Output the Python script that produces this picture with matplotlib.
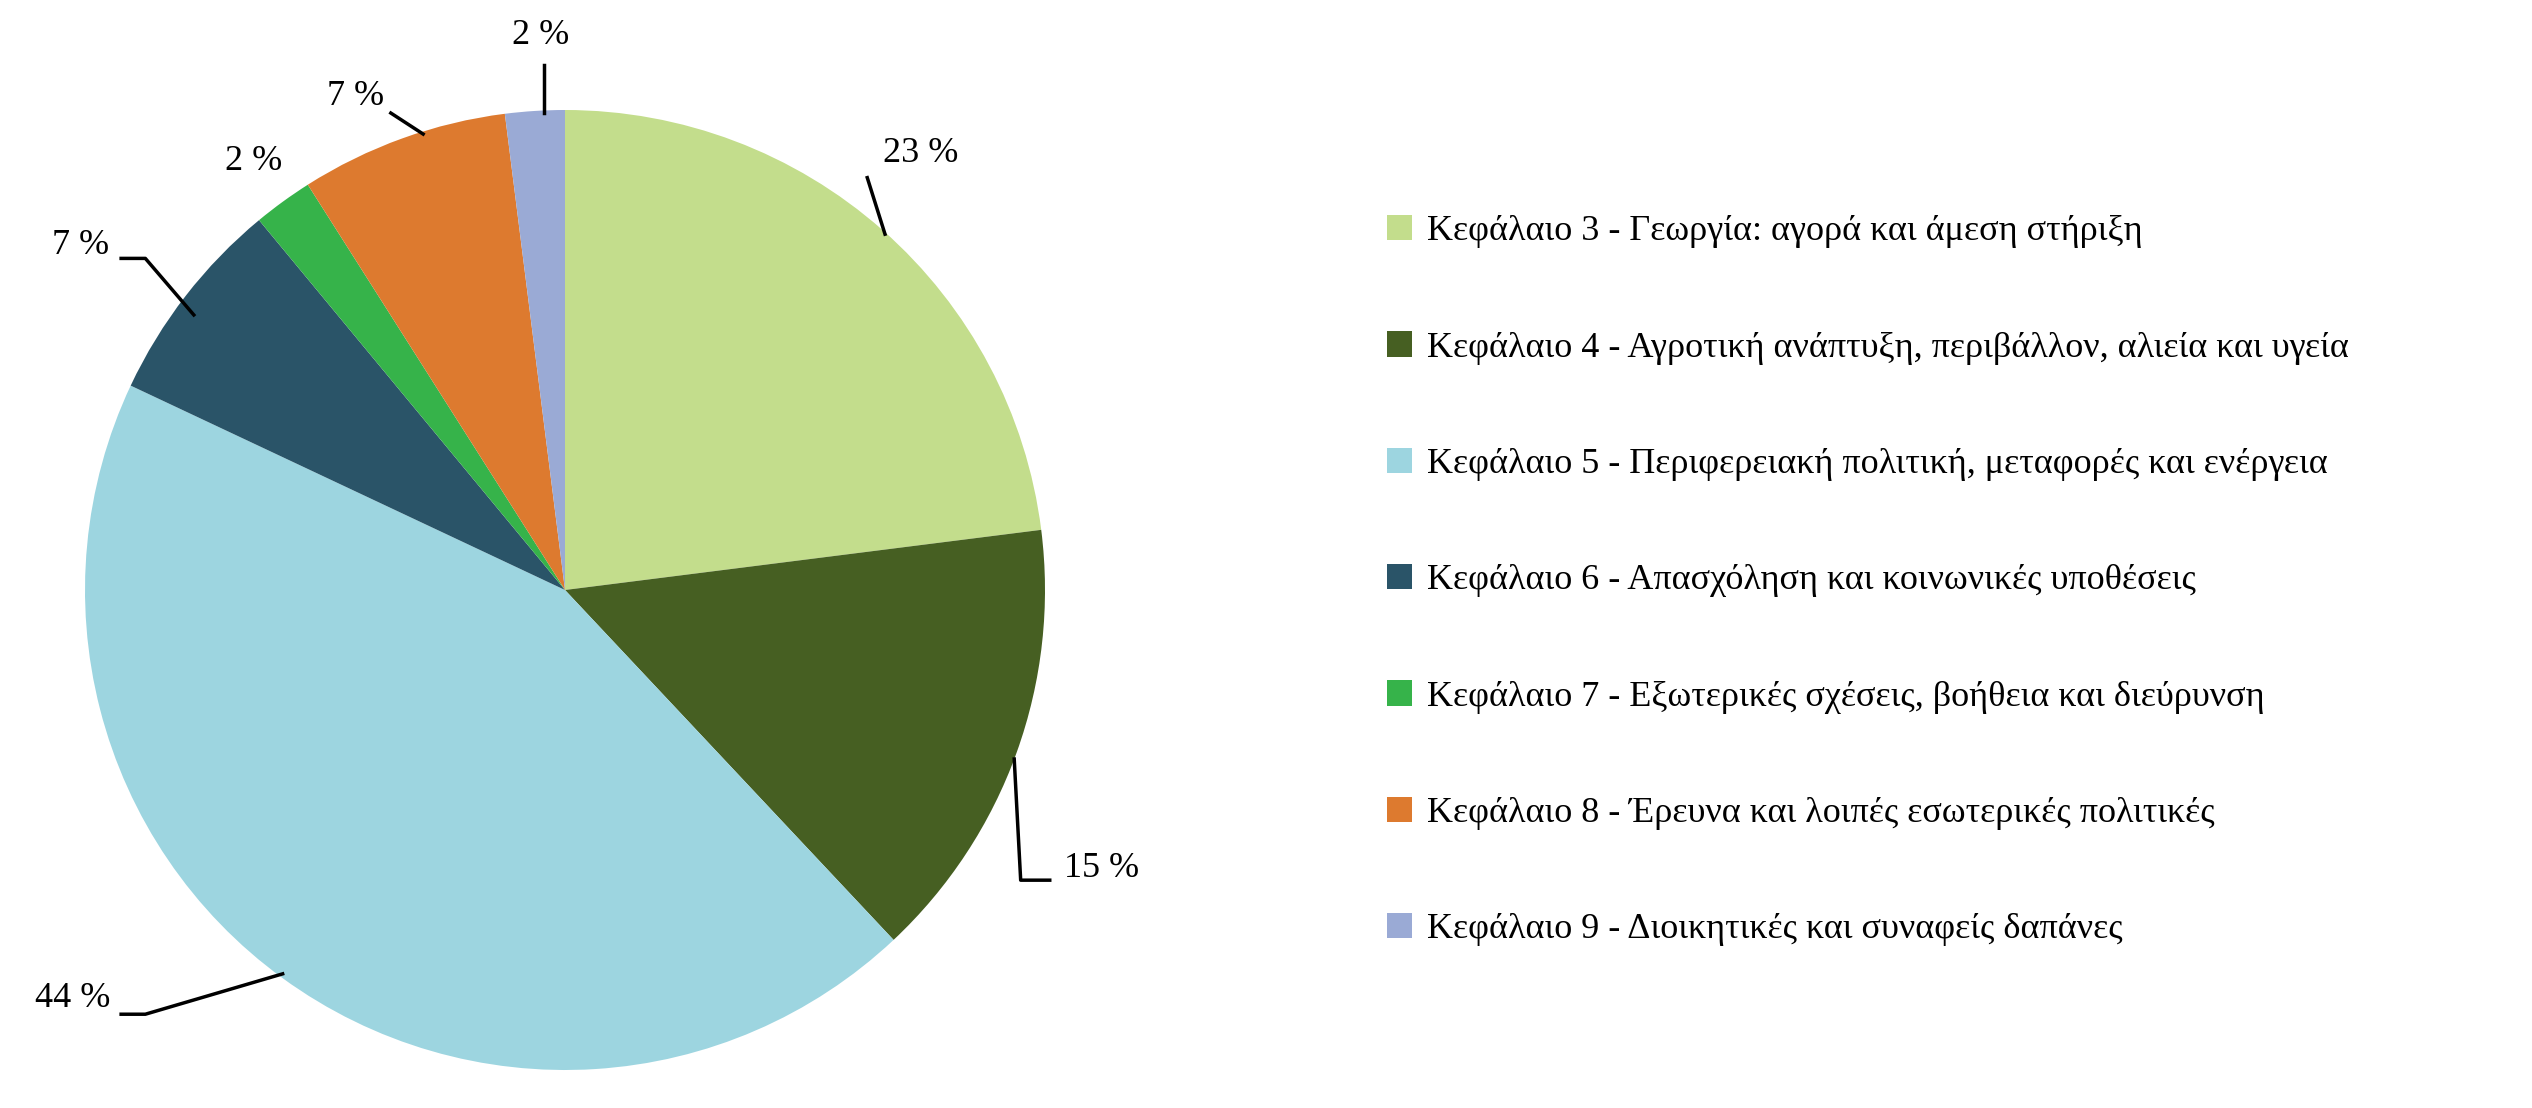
import numpy as np
import matplotlib.pyplot as plt

plt.rcParams['font.family'] = 'Liberation Serif'

labels = ['Κεφάλαιο 3 - Γεωργία: αγορά και άμεση στήριξη',
          'Κεφάλαιο 4 - Αγροτική ανάπτυξη, περιβάλλον, αλιεία και υγεία',
          'Κεφάλαιο 5 - Περιφερειακή πολιτική, μεταφορές και ενέργεια',
          'Κεφάλαιο 6 - Απασχόληση και κοινωνικές υποθέσεις',
          'Κεφάλαιο 7 - Εξωτερικές σχέσεις, βοήθεια και διεύρυνση',
          'Κεφάλαιο 8 - Έρευνα και λοιπές εσωτερικές πολιτικές',
          'Κεφάλαιο 9 - Διοικητικές και συναφείς δαπάνες']
values = [23, 15, 44, 7, 2, 7, 2]
colors = ['#C3DD8C', '#465F22', '#9DD5E0', '#2A5468', '#36B34A', '#DD7A2F', '#9AAAD5']

fig = plt.figure(figsize=(25.32, 11.08), dpi=100)
ax = fig.add_axes([85/2532, 38/1108, 960/2532, 960/1108])
wedges, _ = ax.pie(values, colors=colors, startangle=90, counterclock=False,
                   wedgeprops=dict(linewidth=0))
ax.set_xlim(-1, 1)
ax.set_ylim(-1, 1)
ax.set_aspect('equal')


def px(x, y):
    # displayed-pixel position -> pie data coords
    X = x * 1.615
    Y = 1108 - y * 1.615
    return (X - 565) / 480, (Y - 518) / 480

# leader paths (displayed pixels) and label positions
paths = [
    [(548, 145), (537, 110)],
    [(628, 470), (632, 545), (650, 545)],
    [(175, 603), (90, 628), (75, 628)],
    [(120, 195), (90, 160), (75, 160)],
    None,
    [(262, 83), (242, 70)],
    [(337, 70), (337, 40)],
]
text_pos = [(570, 95, 'center'), (682, 538, 'center'), (45, 618, 'center'),
            (50, 152, 'center'), (157, 100, 'center'), (220, 60, 'center'),
            (335, 22, 'center')]
for v, p, (tx, ty, ha) in zip(values, paths, text_pos):
    if p is not None:
        pts = np.array([px(*q) for q in p])
        ax.plot(pts[:, 0], pts[:, 1], color='black', lw=2.5, clip_on=False)
    x, y = px(tx, ty)
    ax.text(x, y, f'{v} %', fontsize=26, ha=ha, va='center')

fig.legend(wedges, labels, loc='center left', bbox_to_anchor=(0.535, 0.476),
           frameon=False, fontsize=26, labelspacing=2.3, handlelength=0.7,
           handleheight=0.7, handletextpad=0.4)

fig.savefig('out.png', dpi=100, facecolor='white')
